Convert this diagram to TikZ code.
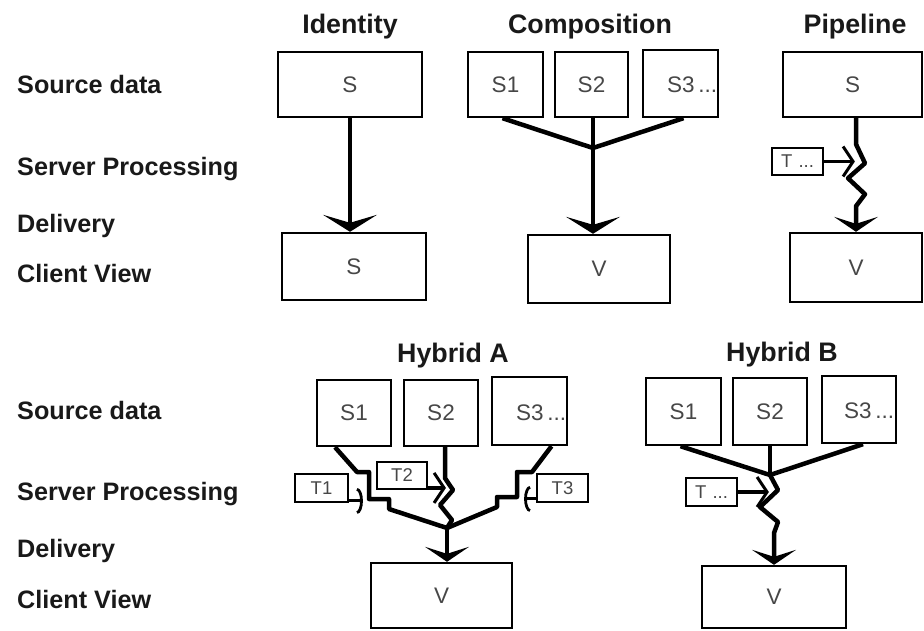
\documentclass[tikz,border=0pt]{standalone}
\usepackage{fontspec}
\setmainfont{Liberation Sans}
\usetikzlibrary{arrows.meta}

\tikzset{
  rowlabel/.style={anchor=base west, inner sep=0pt, font=\bfseries\fontsize{25.2}{28}\selectfont, text=black!90},
  heading/.style={anchor=base, inner sep=0pt, font=\bfseries\fontsize{26.8}{30}\selectfont, text=black!90},
  srcbox/.style={draw, line width=2.4pt, inner sep=0pt, font=\fontsize{22.5}{25}\selectfont, text=black!72},
  boxtext/.style={inner sep=0pt, font=\fontsize{22.5}{25}\selectfont, text=black!72},
  tbox/.style={draw, line width=1.8pt, inner sep=0pt, font=\fontsize{18.5}{20}\selectfont, text=black!72},
  conn/.style={line width=4.5pt, line join=round},
  flow/.style={conn, -{Stealth[length=17pt,width=54pt,inset=8pt]}},
  flowsm/.style={conn, -{Stealth[length=15pt,width=44pt,inset=7pt]}},
  tchev/.style={line width=3.5pt, -{Straight Barb[length=10pt,width=30pt,line width=3pt]}},
  tarc/.style={line width=3pt, -{Arc Barb[length=6pt,width=26pt,line width=2.8pt]}},
}

\begin{document}
\begin{tikzpicture}[x=1pt,y=-1pt]
\useasboundingbox (0,0) rectangle (924,630);

% row labels, upper part
\node[rowlabel] (l1) at (17,93)  {Source data};
\node[rowlabel] (l2) at (17,175) {Server Processing};
\node[rowlabel] (l3) at (17,232) {Delivery};
\node[rowlabel] (l4) at (17,282) {Client View};
% row labels, lower part
\node[rowlabel] (m1) at (17,419) {Source data};
\node[rowlabel] (m2) at (17,500) {Server Processing};
\node[rowlabel] (m3) at (17,557) {Delivery};
\node[rowlabel] (m4) at (17,608) {Client View};

% headings
\node[heading] (hId)  at (350,33)  {Identity};
\node[heading] (hCo)  at (590,33)  {Composition};
\node[heading] (hPi)  at (855,33)  {Pipeline};
\node[heading] (hHA)  at (453,362) {Hybrid A};
\node[heading] (hHB)  at (782,361) {Hybrid B};

% Identity
\node[srcbox, minimum width=144, minimum height=65] (idS) at (350,84.5) {S};
\node[srcbox, minimum width=144, minimum height=67] (idV) at (354,266.5) {S};
\draw[flow] (idS.south) -- (idS.south |- idV.north);

% Composition
\node[srcbox, minimum width=75, minimum height=65] (c1) at (505.5,84.5) {S1};
\node[srcbox, minimum width=73, minimum height=65] (c2) at (591.5,84.5) {S2};
\node[srcbox, minimum width=75, minimum height=67] (c3) at (680.5,83.5) {};
\node[boxtext, anchor=west] (c3t) at (667,85) {S3\,...};
\node[srcbox, minimum width=142, minimum height=68] (cV) at (599,269) {V};
\coordinate (cj) at (593,148);
\draw[conn] ([xshift=-3]c1.south) -- (cj) -- ([xshift=3]c3.south);
\draw[conn] (c2.south -| cj) -- (cj);
\draw[flow] (cj) -- (cj |- cV.north);

% Pipeline
\node[srcbox, minimum width=139, minimum height=65] (pS) at (852.5,84.5) {S};
\node[srcbox, minimum width=132, minimum height=69] (pV) at (856,267.5) {V};
\node[tbox, minimum width=51, minimum height=27] (pT) at (797.5,161.5) {T\,\,...};
\draw[flowsm] (pS.south -| pV.north) -- ++(0,26) -- ++(9,19) -- ++(-17,15)
   -- ++(17,16) -- ++(-9,12) -- (pV.north);
\draw[tchev] (pT.east) -- ++(31,0);

% Hybrid A
\node[srcbox, minimum width=74, minimum height=66] (a1) at (354,413) {S1};
\node[srcbox, minimum width=74, minimum height=66] (a2) at (441,413) {S2};
\node[srcbox, minimum width=75, minimum height=68] (a3) at (529.5,411) {};
\node[boxtext, anchor=west] (a3t) at (516,413) {S3\,...};
\node[srcbox, minimum width=141, minimum height=65] (aV) at (441.5,595.5) {V};
\node[tbox, minimum width=53, minimum height=28] (aT1) at (321.5,488) {T1};
\node[tbox, minimum width=50, minimum height=27] (aT2) at (402,475.5) {T2};
\node[tbox, minimum width=51, minimum height=28] (aT3) at (562.5,488) {T3};
\coordinate (aj) at (447,528);
\draw[conn] ([xshift=-19]a1.south) -- (357,472) -- (369,472) -- (369,499)
   -- (389,499) -- (389,509) -- (aj);
\draw[conn] ([xshift=4]a2.south) -- ++(0,31) -- (453,490) -- (440,505)
   -- (452,520) -- (aj);
\draw[conn] ([xshift=22]a3.south) -- (532,472) -- (517,472) -- (517,497)
   -- (497,497) -- (497,507) -- (aj);
\draw[flowsm] (aj) -- (aj |- aV.north);
\draw[tarc] ([yshift=2]aT1.south east) -- ++(14,0);
\draw[tchev] ([yshift=2]aT2.south east) -- ++(18,0);
\draw[tarc] ([yshift=4]aT3.south west) -- ++(-12,0);

% Hybrid B
\node[srcbox, minimum width=75, minimum height=67] (b1) at (683.5,411.5) {S1};
\node[srcbox, minimum width=74, minimum height=67] (b2) at (770,411.5) {S2};
\node[srcbox, minimum width=74, minimum height=67] (b3) at (859,409.5) {};
\node[boxtext, anchor=west] (b3t) at (844,411) {S3\,...};
\node[srcbox, minimum width=144, minimum height=62] (bV) at (774,597) {V};
\node[tbox, minimum width=51, minimum height=28] (bT) at (711.5,492) {T\,\,...};
\coordinate (bj) at (770,475);
\draw[conn] ([xshift=-3]b1.south) -- (bj) -- ([xshift=4]b3.south);
\draw[conn] (b2.south) -- (bj);
\draw[flowsm] (bj) -- ++(8,15) -- ++(-18,17) -- ++(18,15) -- ++(-4,11) -- (bV.north);
\draw[tchev] (bT.east) -- ++(31,0);
\end{tikzpicture}
\end{document}
